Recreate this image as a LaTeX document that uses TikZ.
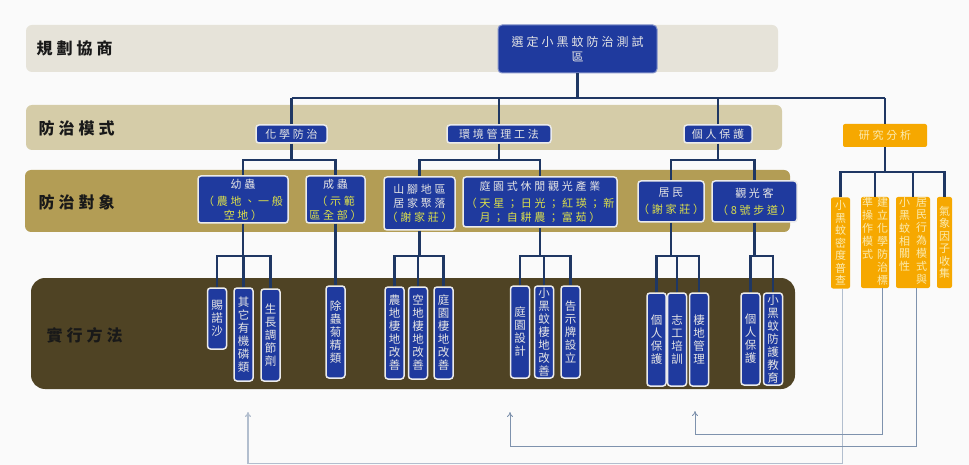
\documentclass[tikz,border=0pt]{standalone}
\usepackage{fontspec}
\usepackage{tikz}
\usetikzlibrary{arrows.meta,positioning,calc}
\newfontfamily\cjk[LetterSpace=25]{Noto Sans CJK TC}
\newfontfamily\cjkv{Noto Sans CJK TC}
\definecolor{bgpage}{HTML}{FAFAFA}
\definecolor{bandone}{HTML}{E6E3D9}
\definecolor{bandtwo}{HTML}{D5CCA8}
\definecolor{bandthree}{HTML}{B39D55}
\definecolor{bandfour}{HTML}{4F4324}
\definecolor{boxblue}{HTML}{1F3A9E}
\definecolor{navy}{HTML}{1F3763}
\definecolor{amber}{HTML}{F6A800}
\definecolor{paletxt}{HTML}{FBEBB0}
\definecolor{limetxt}{HTML}{DCE04A}
\definecolor{fbline}{HTML}{7E92AD}
\newcommand\vcol[1]{\begin{tabular}[t]{@{}c@{}}#1\end{tabular}}
\tikzset{
  bandlab/.style={anchor=west,text=black!90,font=\cjk\bfseries\fontsize{16}{18}\selectfont},
  bluebox/.style={fill=boxblue,draw=white!92!black,line width=1.5pt,rounded corners=3pt,inner sep=0pt,
    text=white!90!black,align=center,font=\cjk\fontsize{11}{14}\selectfont},
  methbox/.style={bluebox,minimum width=19pt,font=\cjkv\fontsize{11.5}{13}\selectfont},
  ambox/.style={fill=amber,rounded corners=2pt,inner sep=0pt,text=paletxt,align=center,
    font=\cjkv\fontsize{11}{12.5}\selectfont},
  link/.style={draw=navy,line width=2.2pt},
  fback/.style={draw=fbline,line width=0.8pt,-{To[length=5pt,width=6pt]}}
}
\begin{document}
\begin{tikzpicture}[x=1pt,y=-1pt]
  \fill[bgpage] (0,0) rectangle (969,465);
  \fill[bandone,rounded corners=6pt] (26,25) rectangle (778,72);
  \fill[bandtwo,rounded corners=6pt] (26,105) rectangle (782,150);
  \fill[bandthree,rounded corners=6pt] (25,170) rectangle (790,232);
  \fill[bandfour,rounded corners=14pt] (31,278) rectangle (795,389);
  \node[bandlab] (lplan) at (33,48) {規劃協商};
  \node[bandlab] (lmode) at (35,128) {防治模式};
  \node[bandlab] (ltarget) at (35,202) {防治對象};
  \node[bandlab] (lact) at (43,335) {實行方法};

  \coordinate (busA) at (0,98);
  \coordinate (busB) at (0,160);
  \coordinate (busC) at (0,256);
  \coordinate (busD) at (0,172);

  \node[bluebox,draw=boxblue!55!white,line width=1pt,rounded corners=4pt,minimum width=159pt,minimum height=48pt,
    font=\cjk\fontsize{12}{15}\selectfont] (site) at (577.5,49) {選定小黑蚊防治測試\\區};
  \node[bluebox,minimum width=71pt,minimum height=18pt] (chem) at (291.5,134) {化學防治};
  \node[bluebox,minimum width=104pt,minimum height=18pt] (env) at (499,134) {環境管理工法};
  \node[bluebox,minimum width=68pt,minimum height=18pt] (pers) at (718,134) {個人保護};
  \node[ambox,minimum width=84pt,minimum height=23pt,font=\cjk\fontsize{11}{13}\selectfont] (res) at (885,135.5) {研究分析};

  \node[bluebox,minimum width=90pt,minimum height=47pt] (larva) at (243,199.5)
    {幼蟲\\[3pt]\textcolor{limetxt}{（農地、一般}\\\textcolor{limetxt}{空地）}};
  \node[bluebox,minimum width=59pt,minimum height=47pt] (adult) at (335.5,199.5)
    {成蟲\\[3pt]\textcolor{limetxt}{（示範}\\\textcolor{limetxt}{區全部）}};
  \node[bluebox,minimum width=71pt,minimum height=53pt] (hill) at (419.5,203.5)
    {山腳地區\\居家聚落\\\textcolor{limetxt}{（謝家莊）}};
  \node[bluebox,minimum width=154pt,minimum height=50pt] (garden) at (540,202)
    {庭園式休閒觀光產業\\[3pt]\textcolor{limetxt}{（天星；日光；紅瑛；新}\\\textcolor{limetxt}{月；自耕農；富茹）}};
  \node[bluebox,minimum width=62pt,minimum height=41pt] (resid) at (671,201.5)
    {居民\\[3pt]\textcolor{limetxt}{（謝家莊）}};
  \node[bluebox,minimum width=85pt,minimum height=41pt] (tour) at (754.5,201.5)
    {觀光客\\[3pt]\textcolor{limetxt}{（8號步道）}};

  \foreach \nm/\x/\y/\h/\txt in {
      m1/217/318.5/61/{賜\\諾\\沙},
      m2/243.5/334.5/93/{其\\它\\有\\機\\磷\\類},
      m3/270.5/335/92/{生\\長\\調\\節\\劑},
      m4/335.5/332/92/{除\\蟲\\菊\\精\\類},
      m5/394.5/333/92/{農\\地\\棲\\地\\改\\善},
      m6/418/333/92/{空\\地\\棲\\地\\改\\善},
      m7/443.5/333/92/{庭\\園\\棲\\地\\改\\善},
      m8/520/332/92/{庭\\園\\設\\計},
      m9/544/332/92/{小\\黑\\蚊\\棲\\地\\改\\善},
      m10/570.5/332/92/{告\\示\\牌\\設\\立},
      m11/656.5/339.5/93/{個\\人\\保\\護},
      m12/677/339.5/93/{志\\工\\培\\訓},
      m13/699/339.5/93/{棲\\地\\管\\理},
      m14/750.5/339/92/{個\\人\\保\\護},
      m15/773/339/92/{小\\黑\\蚊\\防\\護\\教\\育}}
    \node[methbox,minimum height=\h pt] (\nm) at (\x,\y) {\txt};

  \node[ambox,minimum width=19pt,minimum height=91pt] (r1) at (840.5,243) {小\\黑\\蚊\\密\\度\\普\\查};
  \node[ambox,minimum width=28pt,minimum height=91pt] (r2) at (875,242.5)
    {\vcol{準\\操\\作\\模\\式}\hspace{4pt}\vcol{建\\立\\化\\學\\防\\治\\標}};
  \node[ambox,minimum width=34pt,minimum height=91pt] (r3) at (913,242.5)
    {\vcol{小\\黑\\蚊\\相\\關\\性}\hspace{6pt}\vcol{居\\民\\行\\為\\模\\式\\與}};
  \node[ambox,minimum width=15pt,minimum height=91pt] (r4) at (944.5,242.5) {氣\\象\\因\\子\\收\\集};

  \draw[link] (site.south) -- (site.south |- busA);
  \draw[link] (chem.north |- busA) -- (res.north |- busA);
  \foreach \n in {chem,env,pers,res}
    \draw[link] (\n.north) -- (\n.north |- busA);
  \foreach \p/\a/\b in {chem/larva/adult,env/hill/garden,pers/resid/tour}{
    \draw[link] (\p.south) -- (\p.south |- busB);
    \draw[link] (\a.north) -- (\a.north |- busB) -- (\b.north |- busB) -- (\b.north);
  }
  \foreach \p/\a/\b/\c in {larva/m1/m3/m2,hill/m5/m7/m6,garden/m8/m10/m9,resid/m11/m13/m12,tour/m14/m15/m15}{
    \draw[link] (\p.south) -- (\p.south |- busC);
    \draw[link] (\a.north) -- (\a.north |- busC) -- (\b.north |- busC) -- (\b.north);
    \draw[link] (\c.north) -- (\c.north |- busC);
  }
  \draw[link] (adult.south) -- (m4.north);
  \draw[link] (res.south) -- (res.south |- busD);
  \draw[link] (r1.north) -- (r1.north |- busD) -- (r4.north |- busD) -- (r4.north);
  \foreach \n in {r2,r3}
    \draw[link] (\n.north) -- (\n.north |- busD);

  \coordinate (fbA) at (248,412);
  \coordinate (fbB) at (510,412);
  \coordinate (fbC) at (695,411);
  \draw[fback,draw=fbline!60,line width=1.2pt] ([xshift=2pt]r1.south) -- ++(0,175) -| (fbA);
  \draw[fback] ([xshift=7pt]r2.south) -- ++(0,146) -| (fbC);
  \draw[fback] ([xshift=3pt]r3.south) -- ++(0,158) -| (fbB);
\end{tikzpicture}
\end{document}
